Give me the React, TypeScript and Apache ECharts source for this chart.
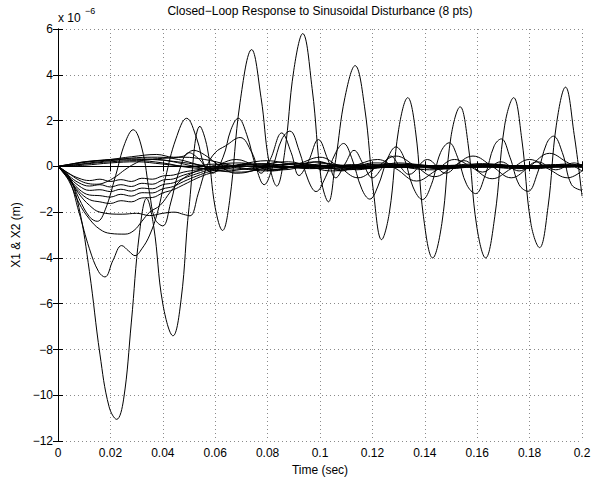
import React, { useEffect, useRef } from "react";
import * as echarts from "echarts";

const TITLE = "Closed−Loop Response to Sinusoidal Disturbance (8 pts)";
const X_NAME = "Time (sec)";
const Y_NAME = "X1 & X2 (m)";
const X_TICKS = [0, 0.02, 0.04, 0.06, 0.08, 0.1, 0.12, 0.14, 0.16, 0.18, 0.2];
const Y_TICKS = [-12, -10, -8, -6, -4, -2, 0, 2, 4, 6];

// values in units of 1e-6 m
const curveA = [[0,0],[0.004,-0.4],[0.008,-1.8],[0.012,-4.6],[0.016,-8.2],[0.0195,-10.5],[0.0224,-11.05],[0.025,-10.2],[0.028,-6.8],[0.031,-3.0],[0.0338,-1.4],[0.0365,-2.6],[0.040,-6.0],[0.0439,-7.4],[0.047,-5.8],[0.050,-1.8],[0.0542,1.75],[0.057,0.8],[0.060,-1.8],[0.0628,-2.8],[0.0655,-1.5],[0.0695,2.8],[0.0739,5.1],[0.0775,3.0],[0.0805,0.2],[0.0835,-0.86],[0.0865,0.6],[0.0900,4.2],[0.0934,5.8],[0.0970,3.4],[0.1005,-0.6],[0.1032,-1.55],[0.106,0.3],[0.1095,3.0],[0.1134,4.4],[0.117,2.6],[0.1205,-1.2],[0.1235,-3.2],[0.1265,-2.0],[0.1300,1.6],[0.1335,3.0],[0.1365,1.5],[0.1395,-2.2],[0.1430,-4.0],[0.1465,-2.5],[0.1500,1.3],[0.1535,2.6],[0.1565,1.0],[0.1598,-2.6],[0.1632,-4.0],[0.1667,-2.2],[0.1705,1.8],[0.1739,3.0],[0.177,1.2],[0.1805,-2.5],[0.1838,-3.55],[0.187,-1.8],[0.1902,1.8],[0.1937,3.46],[0.197,1.4],[0.2,-1.3]];

const curveE = [[0,0],[0.004,-0.5],[0.008,-2.0],[0.012,-3.6],[0.0155,-4.6],[0.0179,-4.83],[0.021,-4.1],[0.0243,-3.46],[0.027,-3.7],[0.0294,-3.9],[0.032,-3.6],[0.035,-3.0],[0.038,-2.0],[0.041,-0.5],[0.045,1.2],[0.0491,2.1],[0.053,1.2],[0.056,0.0],[0.059,-0.3],[0.063,0.4],[0.066,1.6],[0.0688,2.1],[0.072,1.4],[0.0755,0.0],[0.0787,-0.8],[0.082,0.0],[0.0855,1.2],[0.0885,1.54],[0.092,0.7],[0.0955,-0.6],[0.0985,-1.1],[0.102,-0.5],[0.106,0.6],[0.109,1.0],[0.112,0.4],[0.116,-1.0],[0.119,-1.43],[0.122,-0.9],[0.126,0.4],[0.129,0.85],[0.132,0.4],[0.1355,-0.9],[0.1391,-1.45],[0.1425,-0.8],[0.146,0.6],[0.1493,1.03],[0.1525,0.4],[0.156,-0.8],[0.1594,-1.19],[0.163,-0.4],[0.1665,0.9],[0.1692,1.2],[0.1725,0.4],[0.176,-0.8],[0.1794,-1.09],[0.183,-0.3],[0.1865,1.0],[0.1891,1.32],[0.1925,0.6],[0.196,-0.8],[0.2,-1.05]];

const curveH = [[0,0],[0.004,-0.4],[0.008,-1.4],[0.012,-2.2],[0.015,-2.4],[0.018,-1.9],[0.022,-0.4],[0.0255,1.0],[0.0287,1.6],[0.032,0.8],[0.035,-1.2],[0.037,-2.3],[0.040,-2.6],[0.043,-1.6],[0.046,-0.3],[0.050,0.6],[0.054,0.3],[0.058,-0.2],[0.062,0.1],[0.068,0.3],[0.075,0.05],[0.082,-0.2],[0.09,0.0],[0.098,0.2],[0.106,0.05],[0.114,-0.15],[0.122,0.0],[0.13,0.15],[0.138,0.05],[0.146,-0.12],[0.154,0.0],[0.162,0.12],[0.17,0.02],[0.178,-0.1],[0.186,0.0],[0.194,0.1],[0.2,0.05]];

const curveF = [[0,0],[0.004,-0.5],[0.008,-1.2],[0.012,-1.7],[0.016,-2.0],[0.0245,-2.09],[0.030,-2.05],[0.035,-2.15],[0.040,-2.05],[0.0445,-2.0],[0.048,-2.1],[0.0504,-2.16],[0.0535,-1.2],[0.0568,0.0],[0.060,0.6],[0.064,0.9],[0.0695,1.26],[0.074,0.6],[0.0775,-0.3],[0.081,0.3],[0.0854,1.46],[0.089,0.6],[0.092,-0.4],[0.0955,0.2],[0.0994,1.17],[0.103,0.3],[0.106,-0.5],[0.1095,0.1],[0.113,0.7],[0.1165,0.1],[0.120,-0.5],[0.1235,-0.1],[0.127,0.45],[0.1305,0.0],[0.134,-0.35],[0.141,0.3],[0.148,-0.3],[0.155,0.25],[0.162,-0.25],[0.169,0.2],[0.176,-0.2],[0.183,0.2],[0.19,-0.15],[0.197,0.15],[0.2,0.05]];

const curveG = [[0,0],[0.004,-0.6],[0.008,-1.6],[0.012,-2.3],[0.016,-2.75],[0.020,-2.93],[0.0256,-2.96],[0.029,-2.8],[0.032,-2.4],[0.035,-2.0],[0.039,-1.7],[0.043,-1.1],[0.047,-0.6],[0.052,-0.25],[0.057,-0.05],[0.062,0.1],[0.070,0.15],[0.078,-0.05],[0.086,-0.15],[0.094,0.0],[0.102,0.12],[0.11,0.02],[0.118,-0.1],[0.126,-0.02],[0.134,0.1],[0.142,0.03],[0.15,-0.08],[0.158,-0.02],[0.166,0.08],[0.174,0.02],[0.182,-0.07],[0.19,0.0],[0.2,0.06]];

const curveN1 = [[0,0],[0.004,-0.3],[0.008,-0.6],[0.0115,-0.75],[0.0148,-0.78],[0.018,-0.7],[0.022,-0.45],[0.0255,-0.15],[0.029,0.1],[0.033,0.28],[0.038,0.3],[0.044,0.2],[0.05,0.05],[0.056,-0.1],[0.064,-0.2],[0.072,-0.1],[0.08,0.05],[0.088,0.08],[0.096,-0.05],[0.104,-0.1],[0.112,0.0],[0.12,0.08],[0.128,0.02],[0.136,-0.07],[0.144,-0.03],[0.152,0.05],[0.16,0.04],[0.168,-0.05],[0.176,-0.04],[0.184,0.04],[0.192,0.03],[0.2,-0.03]];

const curveN2 = [[0,0],[0.004,-0.3],[0.008,-0.52],[0.012,-0.62],[0.016,-0.56],[0.020,-0.66],[0.024,-0.58],[0.028,-0.66],[0.032,-0.52],[0.036,-0.56],[0.040,-0.42],[0.044,-0.38],[0.048,-0.25],[0.053,-0.15],[0.058,-0.05],[0.065,0.05],[0.072,0.02],[0.08,-0.06],[0.088,-0.02],[0.096,0.05],[0.104,0.02],[0.112,-0.05],[0.12,-0.02],[0.128,0.04],[0.136,0.02],[0.144,-0.04],[0.152,-0.02],[0.16,0.04],[0.168,0.02],[0.176,-0.03],[0.184,-0.02],[0.192,0.03],[0.2,0.02]];

const curveN3 = [[0,0],[0.004,-0.4],[0.008,-0.72],[0.012,-0.86],[0.016,-0.8],[0.020,-0.9],[0.024,-0.8],[0.028,-0.88],[0.032,-0.74],[0.036,-0.78],[0.040,-0.6],[0.044,-0.55],[0.048,-0.38],[0.053,-0.22],[0.058,-0.1],[0.065,0.0],[0.072,0.06],[0.08,0.0],[0.088,-0.06],[0.096,-0.02],[0.104,0.05],[0.112,0.02],[0.12,-0.04],[0.128,-0.02],[0.136,0.04],[0.144,0.02],[0.152,-0.03],[0.16,-0.02],[0.168,0.03],[0.176,0.02],[0.184,-0.03],[0.192,-0.01],[0.2,0.02]];

const curveN4 = [[0,0],[0.004,-0.45],[0.008,-0.85],[0.012,-1.05],[0.016,-1.02],[0.020,-1.1],[0.024,-1.0],[0.028,-1.08],[0.032,-0.95],[0.036,-0.98],[0.040,-0.8],[0.044,-0.72],[0.048,-0.52],[0.053,-0.32],[0.058,-0.15],[0.065,-0.02],[0.072,0.08],[0.08,0.04],[0.088,-0.05],[0.096,-0.05],[0.104,0.03],[0.112,0.04],[0.12,-0.02],[0.128,-0.04],[0.136,0.02],[0.144,0.03],[0.152,-0.02],[0.16,-0.03],[0.168,0.02],[0.176,0.03],[0.184,-0.02],[0.192,-0.02],[0.2,0.02]];

const curveN5 = [[0,0],[0.004,-0.5],[0.008,-1.0],[0.012,-1.25],[0.016,-1.28],[0.020,-1.34],[0.024,-1.22],[0.028,-1.3],[0.032,-1.15],[0.036,-1.16],[0.040,-0.98],[0.044,-0.88],[0.048,-0.66],[0.053,-0.42],[0.058,-0.22],[0.065,-0.05],[0.072,0.1],[0.08,0.08],[0.088,-0.04],[0.096,-0.08],[0.104,0.0],[0.112,0.06],[0.12,0.02],[0.128,-0.05],[0.136,-0.02],[0.144,0.04],[0.152,0.02],[0.16,-0.04],[0.168,-0.01],[0.176,0.04],[0.184,0.01],[0.192,-0.03],[0.2,0.0]];

const curveN6 = [[0,0],[0.004,-0.55],[0.008,-1.1],[0.012,-1.45],[0.016,-1.55],[0.020,-1.62],[0.024,-1.5],[0.028,-1.55],[0.032,-1.38],[0.036,-1.36],[0.040,-1.16],[0.044,-1.02],[0.048,-0.8],[0.053,-0.52],[0.058,-0.3],[0.065,-0.1],[0.072,0.08],[0.08,0.12],[0.088,0.0],[0.096,-0.1],[0.104,-0.04],[0.112,0.07],[0.12,0.05],[0.128,-0.05],[0.136,-0.05],[0.144,0.04],[0.152,0.04],[0.16,-0.03],[0.168,-0.04],[0.176,0.03],[0.184,0.03],[0.192,-0.03],[0.2,-0.02]];

const curveP1 = [[0,0],[0.006,0.12],[0.012,0.22],[0.020,0.3],[0.028,0.33],[0.036,0.3],[0.044,0.22],[0.052,0.1],[0.060,-0.05],[0.068,-0.12],[0.076,-0.08],[0.084,0.05],[0.092,0.1],[0.1,0.02],[0.108,-0.08],[0.116,-0.05],[0.124,0.06],[0.132,0.08],[0.14,-0.02],[0.148,-0.08],[0.156,0.0],[0.164,0.07],[0.172,0.03],[0.18,-0.06],[0.188,-0.03],[0.196,0.05],[0.2,0.04]];

const curveP2 = [[0,0],[0.006,0.05],[0.012,0.15],[0.020,0.25],[0.030,0.38],[0.038,0.4],[0.046,0.3],[0.054,0.05],[0.062,-0.2],[0.070,-0.25],[0.078,-0.1],[0.086,0.1],[0.094,0.12],[0.102,-0.05],[0.11,-0.15],[0.118,-0.05],[0.126,0.1],[0.134,0.08],[0.142,-0.08],[0.15,-0.1],[0.158,0.04],[0.166,0.1],[0.174,0.0],[0.182,-0.1],[0.19,-0.02],[0.2,0.08]];

const curveP3 = [[0,0],[0.005,0.1],[0.010,0.2],[0.016,0.25],[0.024,0.28],[0.032,0.3],[0.040,0.35],[0.048,0.4],[0.056,0.3],[0.064,0.1],[0.072,-0.1],[0.080,-0.15],[0.088,-0.05],[0.096,0.05],[0.104,0.0],[0.112,-0.1],[0.12,-0.08],[0.128,0.05],[0.136,0.05],[0.144,-0.06],[0.152,-0.05],[0.16,0.05],[0.168,0.05],[0.176,-0.05],[0.184,-0.04],[0.192,0.05],[0.2,0.02]];

const curveP4 = [[0,0],[0.006,0.1],[0.012,0.2],[0.020,0.3],[0.028,0.42],[0.0377,0.52],[0.044,0.4],[0.048,0.45],[0.0516,0.7],[0.056,0.5],[0.062,0.0],[0.068,-0.3],[0.074,-0.2],[0.080,0.1],[0.088,0.2],[0.096,0.0],[0.104,-0.2],[0.112,-0.1],[0.12,0.15],[0.128,0.1],[0.136,-0.1],[0.144,-0.15],[0.152,0.05],[0.16,0.1],[0.168,-0.05],[0.176,-0.1],[0.184,0.05],[0.192,0.08],[0.2,-0.05]];

const curveD1 = [[0,0],[0.01,0.1],[0.02,0.2],[0.03,0.25],[0.04,0.15],[0.05,-0.05],[0.06,-0.1],[0.07,0.1],[0.08,0.25],[0.09,0.1],[0.1,0.4],[0.107,0.0],[0.1145,-0.5],[0.122,0.0],[0.129,0.45],[0.1365,0.0],[0.1437,-0.45],[0.151,0.0],[0.1584,0.45],[0.1657,0.0],[0.173,-0.5],[0.180,0.0],[0.1876,0.57],[0.194,0.2],[0.2,-0.2]];

const curveD2 = [[0,0],[0.01,0.05],[0.02,0.15],[0.03,0.2],[0.04,0.1],[0.05,0.0],[0.06,0.1],[0.07,-0.1],[0.08,-0.2],[0.09,0.0],[0.1,0.2],[0.108,-0.2],[0.115,0.1],[0.122,0.3],[0.129,-0.1],[0.1368,-0.64],[0.144,-0.2],[0.1513,0.3],[0.158,-0.05],[0.1657,-0.54],[0.173,-0.1],[0.18,0.3],[0.187,-0.1],[0.1946,-0.5],[0.2,-0.2]];

const CURVES = [curveA, curveE, curveH, curveF, curveG, curveN1, curveN2, curveN3, curveN4, curveN5, curveN6, curveP1, curveP2, curveP3, curveP4, curveD1, curveD2];

const FONT = "Liberation Sans, Arial, Helvetica, sans-serif";

const fmtX = (v: number) => String(Number(v.toFixed(2)));
const fmtY = (v: number) => (v < 0 ? "−" + Math.abs(v) : String(v));

export default function App() {
  const ref = useRef<HTMLDivElement>(null);
  useEffect(() => {
    const chart = echarts.init(ref.current!, null, { renderer: "svg" });
    const axisCommon = {
      type: "value" as const,
      axisLine: { show: true, lineStyle: { color: "#000", width: 1 } },
      axisTick: { show: true, inside: true, length: 5, lineStyle: { color: "#000" } },
    };
    chart.setOption({
      animation: false,
      backgroundColor: "#fff",
      textStyle: { fontFamily: FONT },
      grid: { left: 58, right: 24, top: 29, bottom: 38 },
      xAxis: [
        {
          ...axisCommon,
          min: X_TICKS[0],
          max: X_TICKS[X_TICKS.length - 1],
          interval: 0.02,
          axisLabel: { color: "#000", fontSize: 12, fontFamily: FONT, margin: 6, formatter: fmtX },
          splitLine: { show: true, lineStyle: { color: "#8a8a8a", width: 1, type: [1, 3] } },
          name: X_NAME,
          nameLocation: "middle",
          nameGap: 20,
          nameTextStyle: { color: "#000", fontSize: 12, fontFamily: FONT },
        },
        {
          ...axisCommon,
          position: "top",
          min: X_TICKS[0],
          max: X_TICKS[X_TICKS.length - 1],
          interval: 0.02,
          axisLabel: { show: false },
          splitLine: { show: false },
        },
      ],
      yAxis: [
        {
          ...axisCommon,
          min: Y_TICKS[0],
          max: Y_TICKS[Y_TICKS.length - 1],
          interval: 2,
          axisLabel: { color: "#000", fontSize: 12, fontFamily: FONT, margin: 5, formatter: fmtY },
          splitLine: { show: true, lineStyle: { color: "#8a8a8a", width: 1, type: [1, 3] } },
          name: Y_NAME,
          nameLocation: "middle",
          nameGap: 34,
          nameTextStyle: { color: "#000", fontSize: 12, fontFamily: FONT },
        },
        {
          ...axisCommon,
          position: "right",
          min: Y_TICKS[0],
          max: Y_TICKS[Y_TICKS.length - 1],
          interval: 2,
          axisLabel: { show: false },
          splitLine: { show: false },
        },
      ],
      graphic: [
        {
          type: "text",
          x: 320,
          y: 11,
          style: { text: TITLE, fill: "#000", font: `12px ${FONT}`, textAlign: "center", textVerticalAlign: "middle" },
        },
        {
          type: "text",
          x: 58,
          y: 18,
          style: { text: "x 10", fill: "#000", font: `12px ${FONT}`, textAlign: "left", textVerticalAlign: "middle" },
        },
        {
          type: "text",
          x: 85,
          y: 11,
          style: { text: "−6", fill: "#000", font: `9px ${FONT}`, textAlign: "left", textVerticalAlign: "middle" },
        },
      ],
      series: CURVES.map((c) => ({
        type: "line",
        data: c,
        smooth: 0.4,
        showSymbol: false,
        symbol: "none",
        clip: true,
        lineStyle: { color: "#000", width: 1 },
        emphasis: { disabled: true },
      })),
    });
    return () => chart.dispose();
  }, []);
  return <div ref={ref} style={{ position: "absolute", left: 0, top: 0, width: 606, height: 481 }} />;
}
